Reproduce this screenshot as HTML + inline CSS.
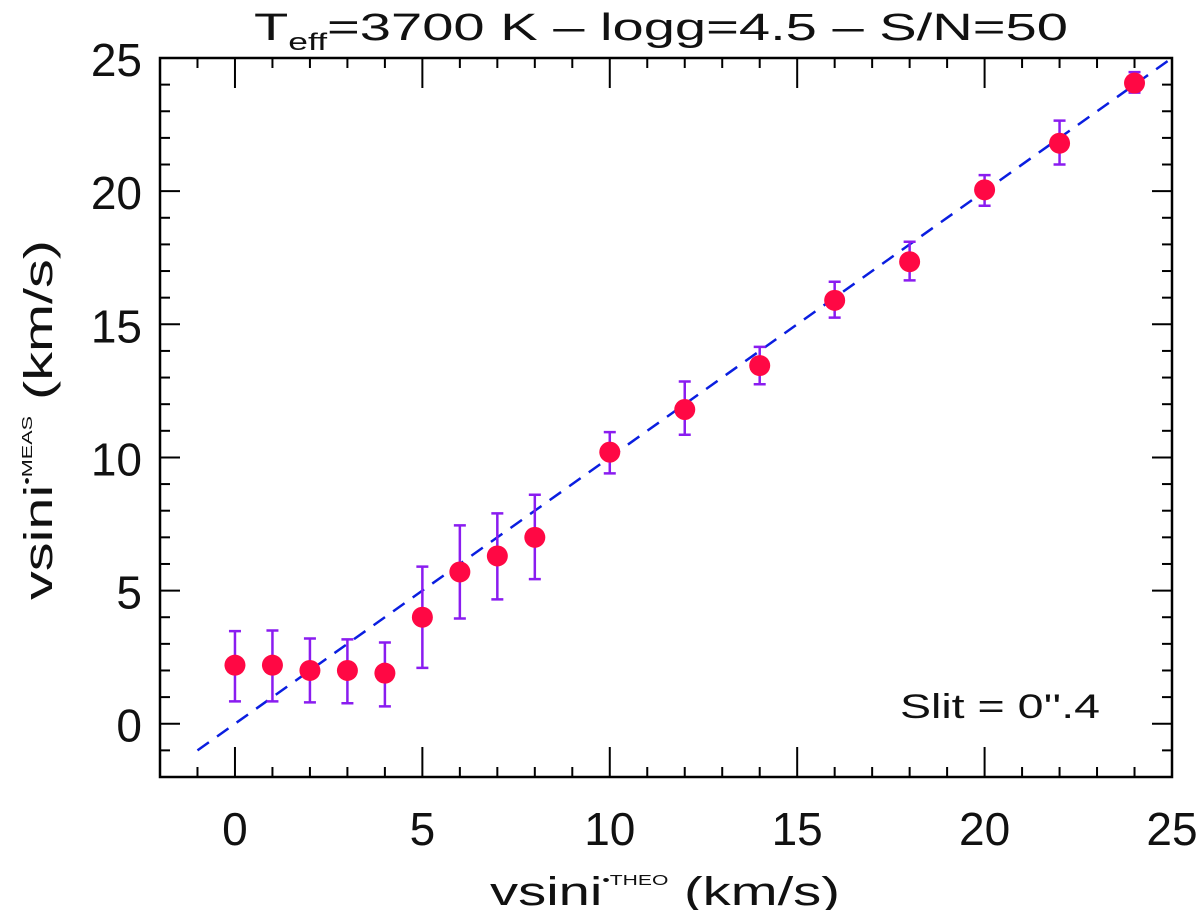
<!DOCTYPE html>
<html><head><meta charset="utf-8"><style>
body{margin:0;background:#fff}
svg{display:block;font-family:"Liberation Sans",sans-serif}
</style></head><body>
<svg id="c" width="1200" height="910">
<text x="254" y="40" font-size="38" fill="#111" textLength="814" lengthAdjust="spacingAndGlyphs">T<tspan font-size="24" dy="10">eff</tspan><tspan dy="-10">=3700  K  –  logg=4.5  –   S/N=50</tspan></text>
<text x="900" y="718" font-size="34" fill="#111" textLength="200" lengthAdjust="spacingAndGlyphs">Slit  =  0''.4</text>
<text x="490" y="905" font-size="40" fill="#111" textLength="350" lengthAdjust="spacingAndGlyphs">vsini<tspan font-size="15" dy="-20">•THEO</tspan><tspan dy="20">  (km/s)</tspan></text>
<text transform="translate(52,600) rotate(-90)" font-size="40" fill="#111" textLength="360" lengthAdjust="spacingAndGlyphs">vsini<tspan font-size="15" dy="-20">•MEAS</tspan><tspan dy="20">  (km/s)</tspan></text>
</svg>
<script>
const xs=[0,1,2,3,4,5,6,7,8,10,12,14,16,18,20,22,24];
const ys=[2.2,2.2,2.0,2.0,1.9,4.0,5.7,6.3,7.0,10.2,11.8,13.45,15.9,17.35,20.05,21.8,24.06];
const yHi=[3.48,3.5,3.2,3.17,3.05,5.9,7.45,7.9,8.6,10.95,12.85,14.15,16.6,18.1,20.6,22.65,24.47];
const yLo=[0.84,0.84,0.8,0.77,0.65,2.1,3.95,4.67,5.43,9.4,10.85,12.75,15.25,16.65,19.45,21.0,23.7];
const xTicks=[0,5,10,15,20,25];
const yTicks=[0,5,10,15,20,25];
const L=160,R=1172,T=58,B=777,x0=-2,x1=25,y0=-2,y1=25;
const X=v=>L+(v-x0)/(x1-x0)*(R-L);
const Y=v=>B-(v-y0)/(y1-y0)*(B-T);
const svg=document.getElementById('c');const NS='http://www.w3.org/2000/svg';
function mk(t,a){const e=document.createElementNS(NS,t);for(const k in a)e.setAttribute(k,a[k]);svg.appendChild(e);return e;}
const fr=mk('rect',{x:L,y:T,width:R-L,height:B-T,fill:'none',stroke:'#000','stroke-width':2.5});


for(let v=-1;v<=24;v++){const major=v%5===0;const len=major?30:10;
 const t1=mk('line',{x1:X(v),x2:X(v),y1:B,y2:B-len,stroke:'#000','stroke-width':2});
 
 
 const t2=mk('line',{x1:X(v),x2:X(v),y1:T,y2:T+len,stroke:'#000','stroke-width':2});
 
 }
for(let v=-1;v<=24;v++){const major=v%5===0;const len=major?20:10;
 const t1=mk('line',{x1:L,x2:L+len,y1:Y(v),y2:Y(v),stroke:'#000','stroke-width':2});
 
 
 const t2=mk('line',{x1:R,x2:R-len,y1:Y(v),y2:Y(v),stroke:'#000','stroke-width':2});
 
 }
xTicks.forEach(v=>{const t=mk('text',{x:X(v),y:845,'text-anchor':'middle','font-size':46,fill:'#111'});t.textContent=v;
 
 });
yTicks.forEach(v=>{const t=mk('text',{x:142,y:Y(v)+18,'text-anchor':'end','font-size':46,fill:'#111'});t.textContent=v;
 
 });
const ln=mk('line',{x1:X(-1),y1:Y(-1),x2:X(25),y2:Y(25),stroke:'#0a1ee0','stroke-width':2.5,'stroke-dasharray':'14,10'});


xs.forEach((v,i)=>{const cx=X(v);
 const e=mk('path',{d:`M${cx},${Y(yHi[i])}V${Y(yLo[i])}M${cx-6},${Y(yHi[i])}h12M${cx-6},${Y(yLo[i])}h12`,stroke:'#8a1cf0','stroke-width':2.5,fill:'none'});
 
 
 const c=mk('circle',{cx:cx,cy:Y(ys[i]),r:10.5,fill:'#ff0844'});
 
 });
</script>
</body></html>
